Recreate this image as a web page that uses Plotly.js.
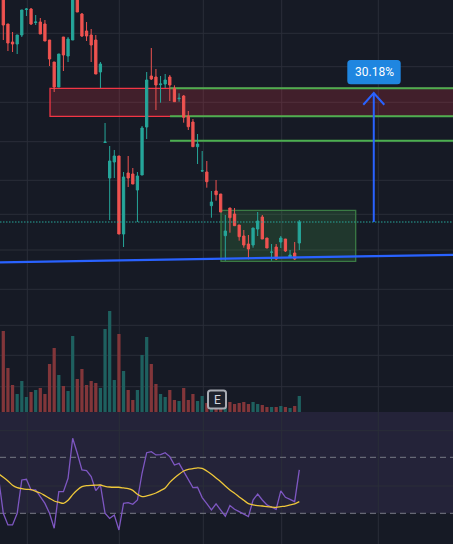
<!DOCTYPE html>
<html><head><meta charset="utf-8">
<script src="https://cdn.plot.ly/plotly-3.0.1.min.js"></script>
<style>html,body{margin:0;padding:0;background:#161a25;}#chart{width:453px;height:544px;}</style>
</head><body><div id="chart"></div>
<script>
// ---- data (bar index based) ----
const barIndex = [...Array(65).keys()];
const open = [6.524,6.254,6.074,6.054,6.144,6.399,6.404,6.269,6.274,6.254,
6.094,5.874,5.624,6.124,5.934,6.094,6.524,6.354,6.184,6.144,
6.094,5.774,5.069,4.714,4.874,4.934,4.154,4.764,4.754,4.594,
4.744,5.224,5.734,5.724,5.647,5.654,5.724,5.611,5.507,5.534,
5.334,5.274,5.027,4.784,4.774,4.437,4.584,4.554,4.137,4.414,
4.354,4.244,4.134,4.054,4.044,4.204,4.324,4.114,3.971,4.024,
4.074,4.104,3.921,3.964,4.064];
const high = [6.574,6.254,6.174,6.144,6.394,6.414,6.414,6.344,6.314,6.294,
6.094,5.874,5.954,6.124,6.124,6.594,6.574,6.364,6.274,6.204,
6.144,5.874,5.264,5.034,4.994,4.934,4.774,4.934,4.814,4.774,
5.234,5.774,6.014,5.804,5.734,5.754,5.744,5.641,5.561,5.544,
5.384,5.304,5.154,4.984,4.884,4.584,4.694,4.554,4.344,4.414,
4.414,4.244,4.194,4.144,4.214,4.374,4.344,4.114,4.054,4.054,
4.134,4.104,3.994,4.074,4.294];
const low = [6.094,5.984,5.974,5.954,6.124,6.334,6.244,6.244,6.154,6.084,
5.834,5.574,5.624,5.784,5.874,6.094,6.374,6.124,6.084,5.874,
5.754,5.614,5.064,4.294,4.714,4.154,4.024,4.624,4.654,4.274,
4.744,5.104,5.694,5.394,5.467,5.614,5.484,5.477,5.477,5.267,
5.194,5.027,4.854,4.774,4.617,4.317,4.487,4.374,3.887,4.167,
4.234,4.087,4.017,3.901,4.017,4.134,4.104,4.014,3.887,3.894,
4.014,3.974,3.914,3.894,3.994];
const close = [6.244,6.064,6.054,6.144,6.394,6.404,6.254,6.274,6.154,6.084,
5.904,5.624,5.954,5.944,6.104,6.514,6.374,6.134,6.134,6.044,
5.754,5.854,5.074,4.884,4.934,4.154,4.724,4.714,4.654,4.734,
5.214,5.694,5.704,5.644,5.654,5.694,5.644,5.477,5.511,5.321,
5.227,5.027,5.054,4.787,4.677,4.474,4.547,4.374,4.184,4.317,
4.237,4.127,4.044,4.004,4.214,4.284,4.104,4.014,3.974,3.904,
4.114,3.984,3.944,3.904,4.274];
const volume = [81,44,27,18,31,15,20,22,24,18,
48,64,37,26,21,76,33,43,27,31,
29,24,83,101,32,78,41,22,12,22,
57,75,48,28,18,15,22,12,11,24,
12,18,11,16,9,7,7,8,10,10,
8,9,10,8,10,8,7,5,5,5,
6,5,4,6,16];
const rsiIndex = [-1, ...barIndex];
const rsi = [54.8,30.0,21.7,21.7,30.0,53.8,54.3,46.7,46.7,41.4,37.1,
30.0,19.3,45.5,45.5,55.0,83.6,72.9,61.0,60.5,56.2,
46.2,50.2,30.0,26.4,28.8,18.1,37.1,37.6,36.4,39.5,
58.6,73.3,74.0,71.7,71.9,73.3,70.5,64.5,65.7,59.8,
55.0,48.3,48.6,41.2,36.9,32.4,36.7,32.6,27.9,35.5,
32.9,31.2,29.3,27.6,39.5,43.8,39.5,36.0,34.3,32.9,
46.0,41.4,40.0,38.3,61.0];
const rsiMA = [58.1,55.7,53.1,50.0,48.3,47.6,47.1,46.9,45.7,44.5,42.6,
40.7,38.8,37.9,37.1,39.3,43.3,46.7,49.0,49.8,50.0,
50.1,50.2,49.3,48.8,48.6,48.6,48.1,47.6,46.4,43.6,
41.9,42.4,43.3,44.5,46.2,48.1,52.1,55.2,57.9,60.2,
61.4,61.9,62.4,62.1,60.2,57.9,55.2,52.6,49.5,46.7,
44.3,41.7,39.3,36.9,36.0,35.5,35.2,34.8,34.5,34.3,
34.8,35.2,36.0,36.7,38.3];
// drawing levels (price units)
const zoneTop = 5.611, zoneBottom = 5.331, level3 = 5.087;
const boxTop = 4.391, boxBottom = 3.881;
const trendX = [-0.72, 97.24], trendY = [3.870, 3.946];
const targetPct = 30.18;
const rsiUpper = 70, rsiLower = 30;

// ---- styling / layout ----
const W = 453, Hh = 544;
const GREEN = '#26a69a', RED = '#ef5350', BG = '#161a25', GRID = '#2a2e39';
const px = x => x / W, py = y => 1 - y / Hh;
const lastClose = close[close.length - 1];
const target = lastClose * (1 + targetPct / 100);
const arrowX = 80.1;

const volColors = barIndex.map(i => close[i] >= open[i] ? '#1e605f' : '#82363a');

const traces = [
  {type:'candlestick', x:barIndex, open:open, high:high, low:low, close:close,
   xaxis:'x', yaxis:'y', hoverinfo:'skip', whiskerwidth:0,
   increasing:{line:{color:GREEN,width:1}, fillcolor:GREEN},
   decreasing:{line:{color:RED,width:1}, fillcolor:RED}},
  {type:'bar', x:barIndex, y:volume, xaxis:'x', yaxis:'y2', width:0.7,
   marker:{color:volColors, line:{width:0}}, hoverinfo:'skip'},
  {type:'scatter', mode:'lines', x:rsiIndex, y:rsi, xaxis:'x', yaxis:'y3',
   line:{color:'#7e57c2', width:1.3}, hoverinfo:'skip'},
  {type:'scatter', mode:'lines', x:rsiIndex, y:rsiMA, xaxis:'x', yaxis:'y3',
   line:{color:'#eec73a', width:1.3, shape:'spline', smoothing:0.6}, hoverinfo:'skip'}
];

function roundRect(x0, y0, x1, y1, r) {
  const rx = r / W, ry = r / Hh;
  const X0 = px(x0), X1 = px(x1), Yt = py(y0), Yb = py(y1);
  return `M${X0+rx},${Yt} L${X1-rx},${Yt} Q${X1},${Yt} ${X1},${Yt-ry} L${X1},${Yb+ry} Q${X1},${Yb} ${X1-rx},${Yb} L${X0+rx},${Yb} Q${X0},${Yb} ${X0},${Yb+ry} L${X0},${Yt-ry} Q${X0},${Yt} ${X0+rx},${Yt} Z`;
}

const shapes = [];
// RSI pane background
shapes.push({type:'rect', xref:'paper', yref:'paper', x0:0, x1:1, y0:py(513.3), y1:py(412),
  fillcolor:'#242339', line:{width:0}, layer:'below'});
// grid
[27.3, 119.3, 203.3, 281.7, 378.3].forEach(x => shapes.push({type:'line', xref:'paper', yref:'paper',
  x0:px(x), x1:px(x), y0:0, y1:1, line:{color:GRID, width:1}, layer:'below'}));
[33.3, 66.7, 102.3, 141.7, 180.3, 214.3, 250, 289.3, 325.3, 355.3, 386.7, 430.7, 486].forEach(y =>
  shapes.push({type:'line', xref:'paper', yref:'paper', x0:0, x1:1, y0:py(y), y1:py(y),
  line:{color:GRID, width:1}, layer:'below'}));
// RSI bands
[rsiUpper, rsiLower].forEach(v => shapes.push({type:'line', xref:'paper', yref:'y3', x0:0, x1:1, y0:v, y1:v,
  line:{color:'#787b86', width:1, dash:'6px,4px'}, layer:'below'}));
// resistance zone
shapes.push({type:'rect', xref:'x', yref:'y', x0:10.1, x1:110, y0:zoneBottom, y1:zoneTop,
  fillcolor:'rgba(242,54,69,0.2)', line:{color:'#f23645', width:1.3}, layer:'below'});
// accumulation box
shapes.push({type:'rect', xref:'x', yref:'y', x0:47.07, x1:76.19, y0:boxBottom, y1:boxTop,
  fillcolor:'rgba(76,175,80,0.2)', line:{color:'#3a7a44', width:1.3}, layer:'below'});
// green target lines
[zoneTop, zoneBottom, level3].forEach(v => shapes.push({type:'line', xref:'x', yref:'y', x0:36.05, x1:110, y0:v, y1:v,
  line:{color:'#4caf50', width:2}, layer:'below'}));
// trend line
shapes.push({type:'line', xref:'x', yref:'y', x0:trendX[0], x1:trendX[1], y0:trendY[0], y1:trendY[1],
  line:{color:'#2962ff', width:2.3}, layer:'above'});
// last price dotted line
shapes.push({type:'line', xref:'paper', yref:'y', x0:0, x1:1, y0:lastClose, y1:lastClose,
  line:{color:GREEN, width:1, dash:'1.5px,1.5px'}, layer:'above'});
// arrow
shapes.push({type:'line', xref:'x', yref:'y', x0:arrowX, x1:arrowX, y0:lastClose, y1:target,
  line:{color:'#2962ff', width:2}, layer:'above'});
shapes.push({type:'path', xref:'x', yref:'y',
  path:`M${arrowX-2.27},${target-0.117} L${arrowX},${target} L${arrowX+2.27},${target-0.117}`,
  line:{color:'#2962ff', width:2}, layer:'above'});
// label box
shapes.push({type:'path', xref:'paper', yref:'paper', path:roundRect(347.3, 60, 400.7, 84.3, 3.5),
  fillcolor:'#1f86e0', line:{width:0}, layer:'above'});
// E badge
shapes.push({type:'path', xref:'paper', yref:'paper', path:roundRect(208, 390.5, 226, 408.5, 2.5),
  fillcolor:'#1e222d', line:{color:'#a8abb3', width:2}, layer:'above'});

const annotations = [
  {xref:'paper', yref:'paper', x:px(374), y:py(72.4), text:targetPct.toFixed(2) + '%', showarrow:false,
   font:{family:'Roboto, sans-serif', size:12, color:'#ffffff'}, xanchor:'center', yanchor:'middle'},
  {xref:'paper', yref:'paper', x:px(217), y:py(399.5), text:'E', showarrow:false,
   font:{family:'Roboto, sans-serif', size:12, color:'#d1d4dc'}, xanchor:'center', yanchor:'middle'}
];

const layout = {
  width:W, height:Hh, margin:{l:0, r:0, t:0, b:0, pad:0},
  paper_bgcolor:BG, plot_bgcolor:'rgba(0,0,0,0)', showlegend:false, dragmode:false,
  xaxis:{range:[-0.7135, 97.23], visible:false, rangeslider:{visible:false}, fixedrange:true},
  yaxis:{domain:[py(412), 1], range:[2.374, 6.494], visible:false, fixedrange:true},
  yaxis2:{domain:[py(412), py(300)], range:[0, 112], visible:false, fixedrange:true},
  yaxis3:{domain:[0, py(412)], range:[8.07, 102.36], visible:false, fixedrange:true},
  shapes:shapes, annotations:annotations
};

Plotly.newPlot('chart', traces, layout, {displayModeBar:false, staticPlot:true});
</script>
</body></html>
